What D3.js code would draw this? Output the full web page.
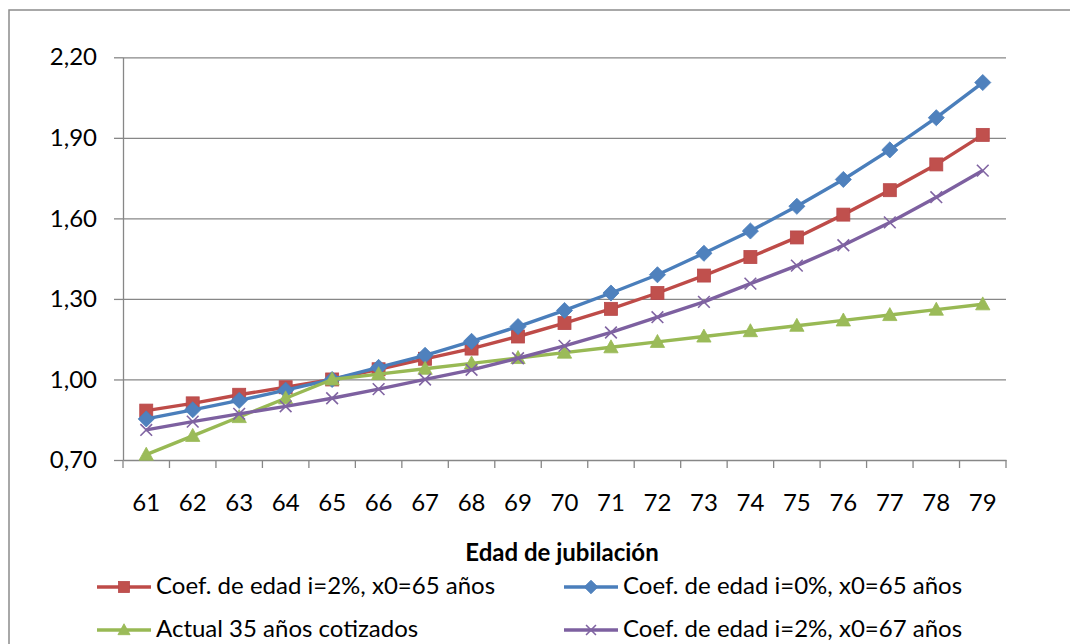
<!DOCTYPE html>
<html>
<head>
<meta charset="utf-8">
<script src="https://cdn.jsdelivr.net/npm/d3@7"></script>
<style>
  html, body { margin: 0; padding: 0; background: #ffffff; }
  svg { display: block; font-family: Lato, "Open Sans", sans-serif; }
</style>
</head>
<body>
<svg id="chart" width="1070" height="644"></svg>
<script>
// Retirement age and adjustment coefficients
const ages = [61, 62, 63, 64, 65, 66, 67, 68, 69, 70, 71, 72, 73, 74, 75, 76, 77, 78, 79];
const coefI2x65 = [0.884, 0.911, 0.943, 0.971, 1.000, 1.038, 1.077, 1.115, 1.160, 1.210, 1.263, 1.322, 1.387, 1.456, 1.529, 1.614, 1.705, 1.801, 1.911];
const coefI0x65 = [0.853, 0.887, 0.922, 0.960, 1.000, 1.045, 1.090, 1.142, 1.197, 1.257, 1.322, 1.390, 1.470, 1.553, 1.645, 1.745, 1.855, 1.975, 2.106];
const actual35 = [0.72, 0.79, 0.86, 0.93, 1.00, 1.02, 1.04, 1.06, 1.08, 1.10, 1.12, 1.14, 1.16, 1.18, 1.20, 1.22, 1.24, 1.26, 1.28];
const coefI2x67 = [0.812, 0.843, 0.872, 0.900, 0.930, 0.964, 1.000, 1.036, 1.079, 1.125, 1.175, 1.232, 1.289, 1.357, 1.424, 1.500, 1.585, 1.679, 1.778];
const yTicks = [0.70, 1.00, 1.30, 1.60, 1.90, 2.20];
const seriesNames = [
  "Coef. de edad i=2%, x0=65 años",
  "Coef. de edad i=0%, x0=65 años",
  "Actual 35 años cotizados",
  "Coef. de edad i=2%, x0=67 años"
];
const xTitle = "Edad de jubilación";

const series = [
  { name: seriesNames[0], values: coefI2x65, color: "#BE4B48", marker: "square" },
  { name: seriesNames[1], values: coefI0x65, color: "#4A7EBB", marker: "diamond" },
  { name: seriesNames[2], values: actual35, color: "#98B954", marker: "triangle" },
  { name: seriesNames[3], values: coefI2x67, color: "#7D60A0", marker: "cross" }
];

const svg = d3.select("#chart");
const plot = { left: 123, right: 1006, top: 57.3, bottom: 460 };
const fontSize = 24;

const x = d3.scaleBand().domain(ages).range([plot.left, plot.right]).padding(0);
const y = d3.scaleLinear().domain([0.70, 2.20]).range([plot.bottom, plot.top]);
const fmt = d3.formatLocale({ decimal: ",", thousands: ".", grouping: [3], currency: ["", "€"] }).format(".2f");

// outer chart frame
svg.append("rect")
  .attr("x", 9).attr("y", 10).attr("width", 1080).attr("height", 660)
  .attr("fill", "none").attr("stroke", "#8c8c8c").attr("stroke-width", 1.5);

// horizontal gridlines
svg.append("g")
  .attr("transform", `translate(${plot.left},0)`)
  .call(d3.axisLeft(y).tickValues(yTicks.slice(1)).tickSize(-(plot.right - plot.left)).tickFormat(""))
  .call(g => g.select(".domain").remove())
  .call(g => g.selectAll("line").attr("stroke", "#878787").attr("stroke-width", 1.3));

// y axis with tick marks and labels
const yAxis = svg.append("g")
  .attr("transform", `translate(${plot.left},0)`)
  .call(d3.axisLeft(y).tickValues(yTicks).tickSize(9).tickSizeOuter(0).tickPadding(17).tickFormat(fmt));
yAxis.select(".domain").attr("stroke", "#878787").attr("stroke-width", 1.3);
yAxis.selectAll(".tick line").attr("stroke", "#878787").attr("stroke-width", 1.3);
yAxis.selectAll(".tick text").attr("font-size", fontSize).attr("fill", "#000").attr("font-family", "Lato, sans-serif");

// x axis: labels at category centres, tick marks on category boundaries
const xAxis = svg.append("g")
  .attr("transform", `translate(0,${plot.bottom})`)
  .call(d3.axisBottom(x).tickSize(0).tickPadding(34));
xAxis.select(".domain").attr("stroke", "#878787").attr("stroke-width", 1.3);
xAxis.selectAll(".tick text").attr("font-size", fontSize).attr("fill", "#000").attr("font-family", "Lato, sans-serif");
const bounds = ages.map(a => x(a)).concat([x(ages[ages.length - 1]) + x.step()]);
xAxis.selectAll("line.bound").data(bounds).join("line")
  .attr("class", "bound")
  .attr("x1", d => d).attr("x2", d => d).attr("y1", 0).attr("y2", 8)
  .attr("stroke", "#878787").attr("stroke-width", 1.3);

// axis title
svg.append("text")
  .attr("x", 562).attr("y", 561)
  .attr("text-anchor", "middle").attr("font-size", 24).attr("font-weight", "bold")
  .text(xTitle);

// marker shapes
function drawMarker(sel, type, color, s) {
  if (type === "square") {
    sel.append("rect").attr("x", -s / 2).attr("y", -s / 2).attr("width", s).attr("height", s)
      .attr("fill", "#C0504D").attr("stroke", "#B7474A").attr("stroke-width", 0.8);
  } else if (type === "diamond") {
    const r = s * 0.62;
    sel.append("path").attr("d", `M0,${-r}L${r},0L0,${r}L${-r},0Z`)
      .attr("fill", "#4F81BD").attr("stroke", "#4A7EBB").attr("stroke-width", 0.8);
  } else if (type === "triangle") {
    const h = s * 0.95, w = s * 1.1;
    sel.append("path").attr("d", `M0,${-h * 0.6}L${w / 2},${h * 0.45}L${-w / 2},${h * 0.45}Z`)
      .attr("fill", "#9BBB59").attr("stroke", "#98B954").attr("stroke-width", 0.8);
  } else {
    const r = s * 0.45;
    sel.append("path").attr("d", `M${-r},${-r}L${r},${r}M${-r},${r}L${r},${-r}`)
      .attr("fill", "none").attr("stroke", "#8064A2").attr("stroke-width", 1.6);
  }
}

const line = d3.line().x(d => x(d.age) + x.bandwidth() / 2).y(d => y(d.v));

series.forEach(s => {
  const pts = ages.map((a, i) => ({ age: a, v: s.values[i] }));
  const g = svg.append("g");
  g.append("path").datum(pts).attr("d", line)
    .attr("fill", "none").attr("stroke", s.color).attr("stroke-width", 3.4)
    .attr("stroke-linejoin", "round");
  g.selectAll("g.pt").data(pts).join("g").attr("class", "pt")
    .attr("transform", d => `translate(${x(d.age) + x.bandwidth() / 2},${y(d.v)})`)
    .each(function () { drawMarker(d3.select(this), s.marker, s.color, 13); });
});

// legend, two columns by two rows
const legendPos = [
  { lx: 97, ly: 587 }, { lx: 564, ly: 587 },
  { lx: 97, ly: 630 }, { lx: 564, ly: 630 }
];
series.forEach((s, i) => {
  const p = legendPos[i];
  const g = svg.append("g").attr("transform", `translate(${p.lx},${p.ly})`);
  g.append("line").attr("x1", 0).attr("x2", 54).attr("y1", 0).attr("y2", 0)
    .attr("stroke", s.color).attr("stroke-width", 3.4);
  const m = g.append("g").attr("transform", "translate(27,0)");
  drawMarker(m, s.marker, s.color, 11);
  g.append("text").attr("x", 59).attr("y", 7).attr("font-size", fontSize).attr("fill", "#000")
    .text(s.name);
});
</script>
</body>
</html>
